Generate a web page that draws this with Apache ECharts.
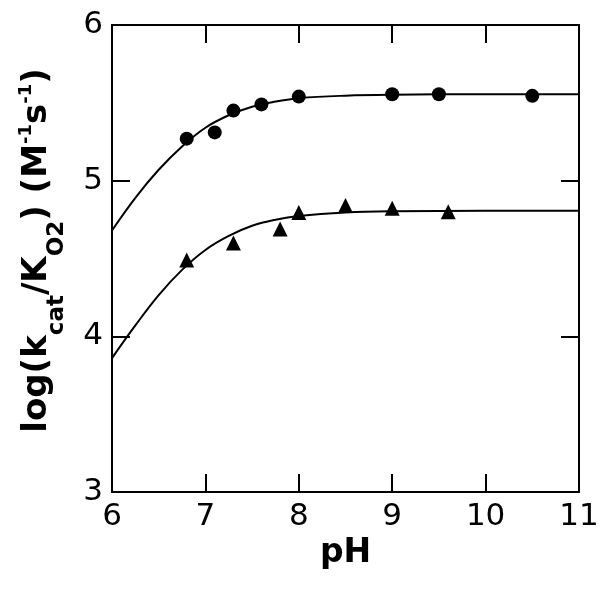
<!DOCTYPE html>
<html>
<head>
<meta charset="utf-8">
<script src="https://cdn.jsdelivr.net/npm/echarts@6/dist/echarts.min.js"></script>
<style>
  html, body { margin: 0; padding: 0; background: #fff; }
  #chart { width: 601px; height: 590px; }
</style>
</head>
<body>
<div id="chart"></div>
<script>
// measured points (circles, triangles)
var circlePH = [6.8, 7.1, 7.3, 7.6, 8.0, 9.0, 9.5, 10.5];
var circleLog = [5.27, 5.31, 5.45, 5.49, 5.54, 5.555, 5.555, 5.545];
var trianglePH = [6.8, 7.3, 7.8, 8.0, 8.5, 9.0, 9.6];
var triangleLog = [4.49, 4.60, 4.69, 4.795, 4.84, 4.823, 4.80];

// fitted curves
var fitPH = [6, 6.25, 6.5, 6.75, 7, 7.25, 7.5, 7.75, 8, 8.5, 9, 10, 11];
var fitUpper = [4.68, 4.89, 5.07, 5.22, 5.34, 5.42, 5.475, 5.508, 5.53, 5.546, 5.552, 5.555, 5.555];
var fitLower = [3.86, 4.07, 4.265, 4.427, 4.555, 4.645, 4.71, 4.749, 4.773, 4.795, 4.803, 4.806, 4.806];

var xTicks = [6, 7, 8, 9, 10, 11];
var yTicks = [3, 4, 5, 6];

function pairs(xs, ys) {
    return xs.map(function (x, i) { return [x, ys[i]]; });
}

var font = 'DejaVu Sans, sans-serif';
var axisLine = { show: true, onZero: false, lineStyle: { color: '#000', width: 2 } };
var axisTick = { show: true, inside: true, length: 18, lineStyle: { color: '#000', width: 2 } };

var chart = echarts.init(document.getElementById('chart'));
chart.setOption({
    animation: false,
    backgroundColor: '#fff',
    grid: { left: 112, right: 22, top: 25, bottom: 98, containLabel: false, outerBoundsMode: 'none' },
    xAxis: [
        {
            type: 'value', min: xTicks[0], max: xTicks[xTicks.length - 1], interval: 1,
            position: 'bottom',
            name: 'pH', nameLocation: 'middle', nameGap: 45,
            nameTextStyle: { fontFamily: font, fontSize: 33, fontWeight: 'bold', color: '#000' },
            axisLine: axisLine, axisTick: axisTick, splitLine: { show: false },
            axisLabel: { fontFamily: font, fontSize: 31, color: '#000', margin: 9 }
        },
        {
            type: 'value', min: xTicks[0], max: xTicks[xTicks.length - 1], interval: 1,
            position: 'top',
            axisLine: axisLine, axisTick: axisTick, splitLine: { show: false },
            axisLabel: { show: false }
        }
    ],
    yAxis: [
        {
            type: 'value', min: yTicks[0], max: yTicks[yTicks.length - 1], interval: 1,
            position: 'left',
            name: 'log(k{sub|cat}/K{sub|O2}) (M{sup|-1}s{sup|-1})',
            nameLocation: 'middle', nameRotate: 90, nameGap: 43,
            nameTextStyle: {
                fontFamily: font, fontSize: 34, fontWeight: 'bold', color: '#000', lineHeight: 64,
                padding: [0, 0, 0, 16],
                rich: {
                    sub: { fontFamily: font, fontSize: 23, fontWeight: 'bold', color: '#000', lineHeight: 15, verticalAlign: 'bottom' },
                    sup: { fontFamily: font, fontSize: 18, fontWeight: 'bold', color: '#000', lineHeight: 20, padding: [0, 0, 22, 0] }
                }
            },
            axisLine: axisLine, axisTick: axisTick, splitLine: { show: false },
            axisLabel: { fontFamily: font, fontSize: 31, color: '#000', margin: 9 }
        },
        {
            type: 'value', min: yTicks[0], max: yTicks[yTicks.length - 1], interval: 1,
            position: 'right',
            axisLine: axisLine, axisTick: axisTick, splitLine: { show: false },
            axisLabel: { show: false }
        }
    ],
    series: [
        {
            type: 'line', data: pairs(fitPH, fitUpper), smooth: 0.4, symbol: 'none',
            lineStyle: { color: '#000', width: 2 }
        },
        {
            type: 'line', data: pairs(fitPH, fitLower), smooth: 0.4, symbol: 'none',
            lineStyle: { color: '#000', width: 2 }
        },
        {
            type: 'scatter', data: pairs(circlePH, circleLog), symbol: 'circle', symbolSize: 14,
            itemStyle: { color: '#000', opacity: 1 }
        },
        {
            type: 'scatter', data: pairs(trianglePH, triangleLog), symbol: 'triangle', symbolSize: 15,
            itemStyle: { color: '#000', opacity: 1 }
        }
    ]
});
</script>
</body>
</html>
